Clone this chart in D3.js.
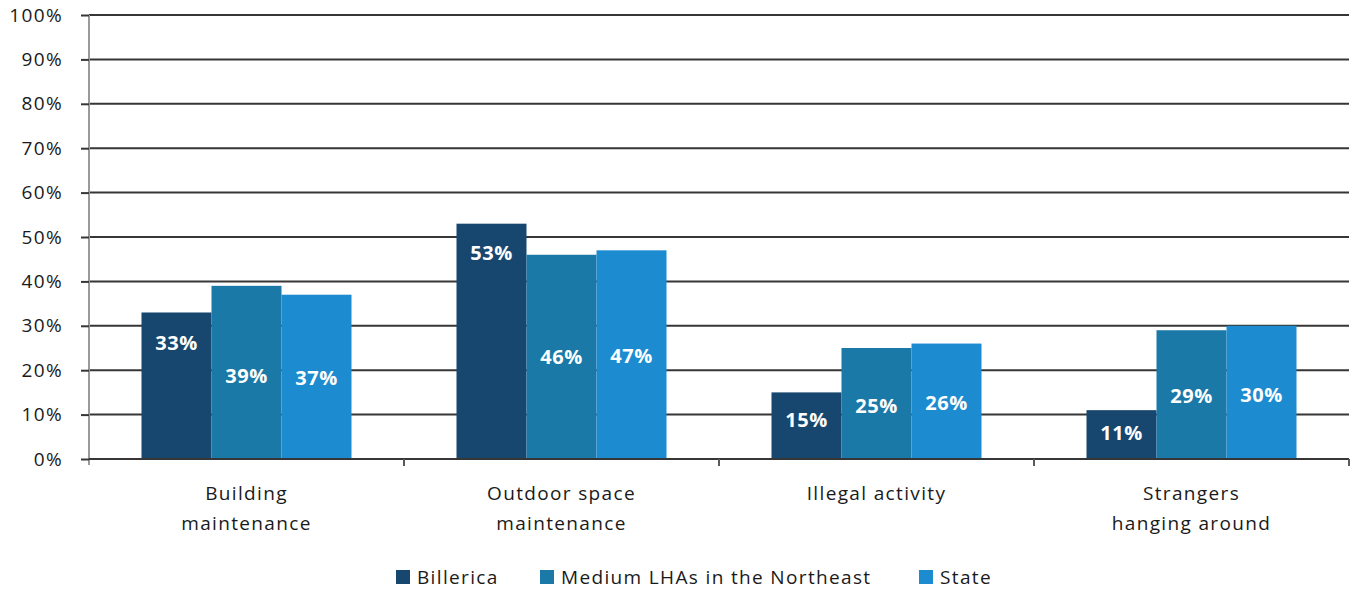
<!DOCTYPE html>
<html>
<head>
<meta charset="utf-8">
<script src="https://cdn.jsdelivr.net/npm/d3@7"></script>
<style>
  html, body { margin: 0; padding: 0; background: #fff; }
  svg { display: block; }
  text { font-family: "Open Sans", "Noto Sans", sans-serif; }
</style>
</head>
<body>
<svg id="chart" width="1351" height="590"></svg>
<script>
// Concerns reported by residents, by comparison group
const categories = [["Building", "maintenance"], ["Outdoor space", "maintenance"], ["Illegal activity"], ["Strangers", "hanging around"]];
const series = ["Billerica", "Medium LHAs in the Northeast", "State"];
const billerica = [33, 53, 15, 11];
const mediumLHAs = [39, 46, 25, 29];
const state = [37, 47, 26, 30];
const yTicks = [0, 10, 20, 30, 40, 50, 60, 70, 80, 90, 100];

// Where each value label sits, in axis units (labels were hand-placed inside the bars)
const labelAnchorBillerica = [26.2, 46.3, 8.8, 5.9];
const labelAnchorMedium = [18.8, 23.0, 11.9, 14.1];
const labelAnchorState = [18.2, 23.3, 12.6, 14.5];

const colors = ["#17476f", "#1a79a7", "#1c8bcf"];

const values = [billerica, mediumLHAs, state];
const anchors = [labelAnchorBillerica, labelAnchorMedium, labelAnchorState];

const svg = d3.select("#chart");
const plotLeft = 89, plotRight = 1349, plotTop = 15, plotBottom = 459;
const textSize = 19, textSpacing = "1.35px";

const y = d3.scaleLinear().domain([0, 100]).range([plotBottom, plotTop]);
const x = d3.scaleBand().domain(d3.range(categories.length)).range([plotLeft, plotRight]).padding(0);
const xs = d3.scaleBand().domain(d3.range(series.length))
  .range([x.bandwidth() / 6, x.bandwidth() * 5 / 6]).padding(0);

// horizontal gridlines
svg.append("g").selectAll("line").data(yTicks.filter(t => t > 0)).join("line")
  .attr("x1", plotLeft).attr("x2", plotRight)
  .attr("y1", d => y(d)).attr("y2", d => y(d))
  .attr("stroke", "#363636").attr("stroke-width", 2);

// y axis
const yAxis = svg.append("g").attr("transform", `translate(${plotLeft},0)`)
  .call(d3.axisLeft(y).tickValues(yTicks).tickFormat(d => d + "%").tickSize(8).tickPadding(18));
yAxis.select(".domain").attr("stroke", "#9a9a9a").attr("stroke-width", 2)
  .attr("d", `M0,${plotTop}V${plotBottom + 6}`);
yAxis.selectAll(".tick line").attr("stroke", "#363636").attr("stroke-width", 2);
yAxis.selectAll(".tick text").attr("fill", "#1a1a1a").attr("font-size", textSize)
  .style("letter-spacing", textSpacing);

// bars
const groups = svg.append("g").selectAll("g").data(categories).join("g")
  .attr("transform", (d, i) => `translate(${x(i)},0)`);

groups.selectAll("rect").data((d, i) => values.map((v, s) => ({ s, v: v[i] }))).join("rect")
  .attr("x", d => xs(d.s)).attr("width", xs.bandwidth())
  .attr("y", d => y(d.v)).attr("height", d => y(0) - y(d.v))
  .attr("fill", d => colors[d.s]);

groups.selectAll("text.val").data((d, i) => values.map((v, s) => ({ s, v: v[i], a: anchors[s][i] }))).join("text")
  .attr("class", "val")
  .attr("x", d => xs(d.s) + xs.bandwidth() / 2)
  .attr("y", d => y(d.a))
  .attr("dy", "0.35em")
  .attr("text-anchor", "middle")
  .attr("fill", "#fff").attr("font-weight", 700).attr("font-size", 20)
  .style("letter-spacing", "0.6px")
  .text(d => d.v + "%");

// x axis baseline and category ticks
const xAxis = svg.append("g");
xAxis.append("line").attr("x1", plotLeft).attr("x2", plotRight).attr("y1", plotBottom).attr("y2", plotBottom)
  .attr("stroke", "#363636").attr("stroke-width", 2);
xAxis.selectAll("line.tick").data(d3.range(1, categories.length + 1)).join("line")
  .attr("class", "tick")
  .attr("x1", d => plotLeft + d * x.step()).attr("x2", d => plotLeft + d * x.step())
  .attr("y1", plotBottom).attr("y2", plotBottom + 7)
  .attr("stroke", "#5a5a5a").attr("stroke-width", 2);

// category labels
xAxis.selectAll("text").data(categories).join("text")
  .attr("x", (d, i) => x(i) + x.bandwidth() / 2)
  .attr("y", 500)
  .attr("text-anchor", "middle")
  .attr("fill", "#1a1a1a").attr("font-size", textSize)
  .style("letter-spacing", textSpacing)
  .selectAll("tspan").data(d => d).join("tspan")
  .attr("x", function () { return this.parentNode.getAttribute("x"); })
  .attr("dy", (d, i) => i === 0 ? 0 : 30)
  .text(d => d);

// legend
const legendX = [396, 540, 919];
const legend = svg.append("g").selectAll("g").data(series).join("g")
  .attr("transform", (d, i) => `translate(${legendX[i]},577)`);
legend.append("rect").attr("x", 0).attr("y", -7).attr("width", 14).attr("height", 14)
  .attr("fill", (d, i) => colors[i]);
legend.append("text").attr("x", 21).attr("dy", "0.35em")
  .attr("fill", "#1a1a1a").attr("font-size", textSize)
  .style("letter-spacing", textSpacing).text(d => d);
</script>
</body>
</html>
